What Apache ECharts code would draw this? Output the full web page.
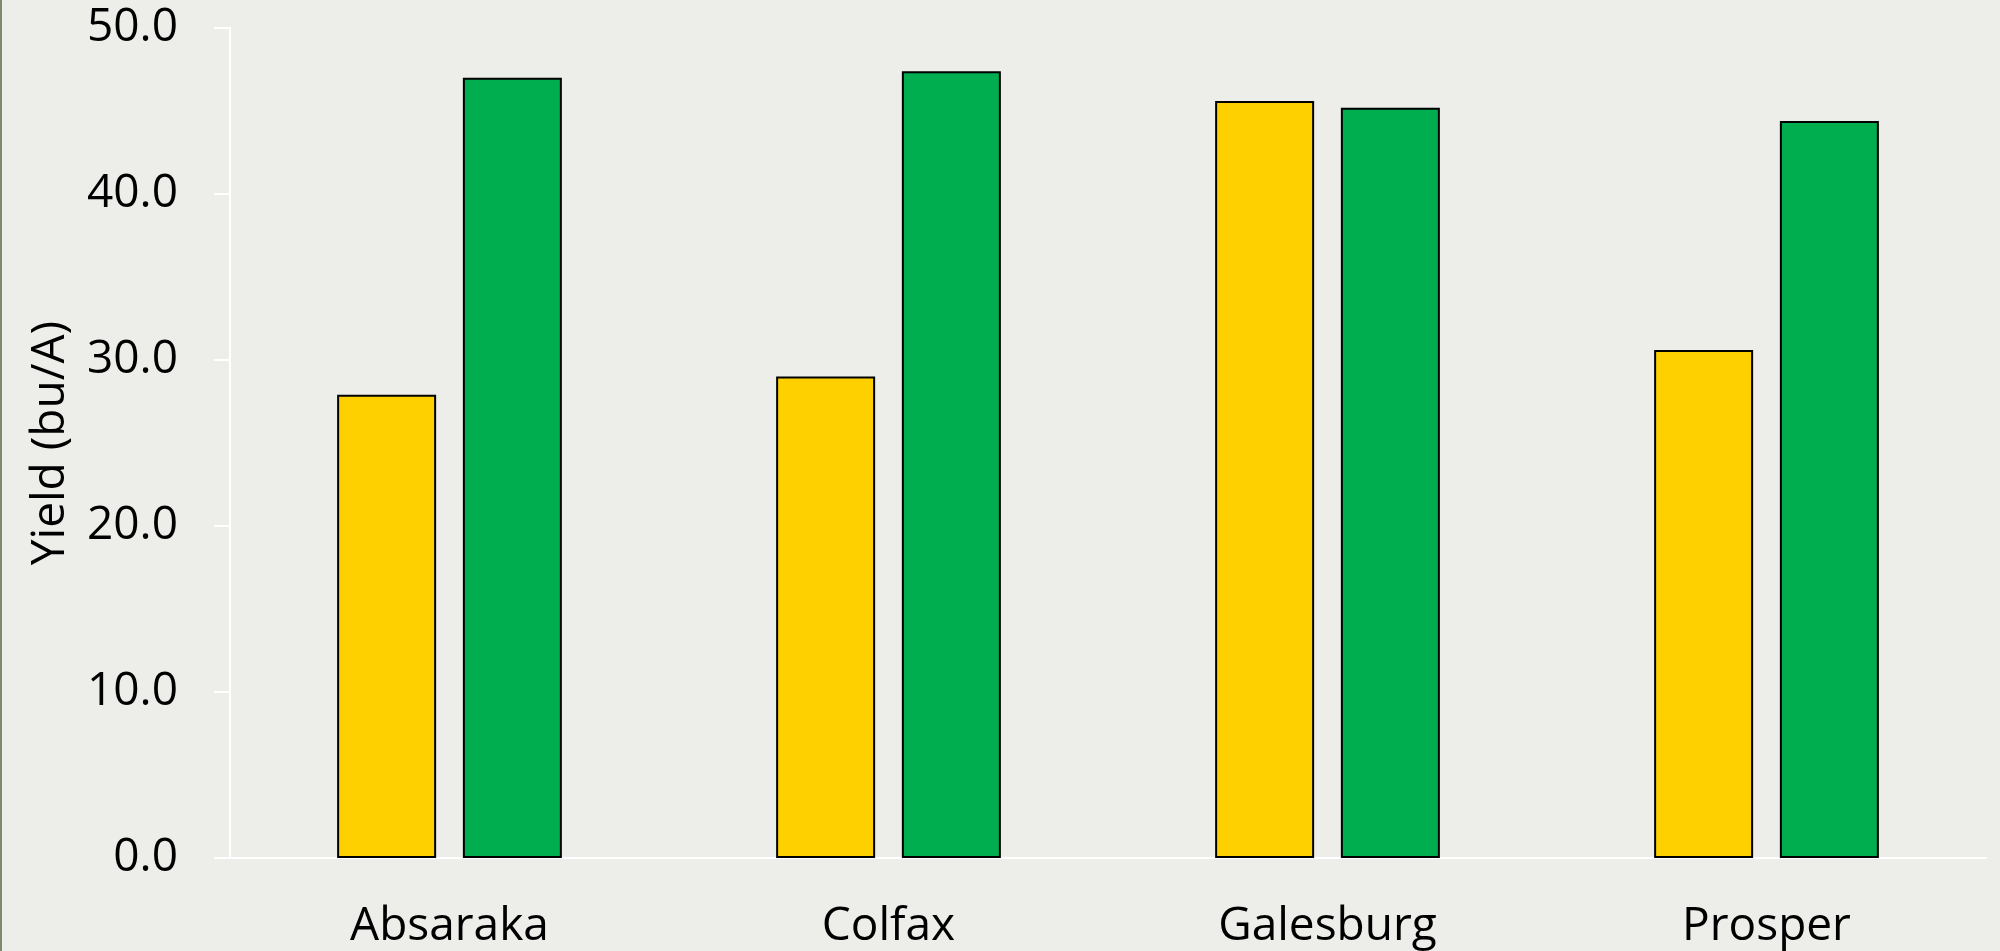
<!DOCTYPE html>
<html>
<head>
<meta charset="utf-8">
<script src="https://cdn.jsdelivr.net/npm/echarts@6/dist/echarts.min.js"></script>
<style>
  html, body { margin: 0; padding: 0; background: #edede9; }
  #main { width: 2000px; height: 951px; }
  #edge { position: absolute; left: 0; top: 0; width: 2px; height: 951px; background: #7d8a6c; }
</style>
</head>
<body>
<div id="main"></div>
<div id="edge"></div>
<script>
var sites = ['Absaraka', 'Colfax', 'Galesburg', 'Prosper'];
var yieldYellow = [27.9, 29.0, 45.6, 30.6];
var yieldGreen = [47.0, 47.4, 45.2, 44.4];

var myChart = echarts.init(document.getElementById('main'));

var fontName = '"Open Sans", "Noto Sans", sans-serif';

option = {
    backgroundColor: '#edede9',
    animation: false,
    grid: {
        left: 230,
        right: 14,
        top: 28,
        bottom: 93
    },
    xAxis: {
        type: 'category',
        data: sites,
        axisLine: { show: true, lineStyle: { color: '#ffffff', width: 2 } },
        axisTick: { show: false },
        axisLabel: {
            color: '#000',
            fontSize: 46,
            fontFamily: fontName,
            margin: 46
        }
    },
    yAxis: {
        type: 'value',
        min: 0,
        max: 50,
        interval: 10,
        name: 'Yield (bu/A)',
        nameLocation: 'middle',
        nameGap: 156,
        nameTextStyle: {
            color: '#000',
            fontSize: 46,
            fontFamily: fontName
        },
        splitLine: { show: false },
        axisLine: { show: true, lineStyle: { color: '#ffffff', width: 2 } },
        axisTick: { show: true, length: 16, lineStyle: { color: '#ffffff', width: 2 } },
        axisLabel: {
            color: '#000',
            fontSize: 46,
            fontFamily: fontName,
            margin: 52,
            formatter: function (v) { return v.toFixed(1); }
        }
    },
    series: [
        {
            name: 'yellow',
            type: 'bar',
            data: yieldYellow,
            barWidth: 99,
            barGap: '27%',
            itemStyle: { color: '#ffd000', borderColor: '#000', borderWidth: 2 }
        },
        {
            name: 'green',
            type: 'bar',
            data: yieldGreen,
            barWidth: 99,
            itemStyle: { color: '#00ae4f', borderColor: '#000', borderWidth: 2 }
        }
    ]
};

myChart.setOption(option);
</script>
</body>
</html>
